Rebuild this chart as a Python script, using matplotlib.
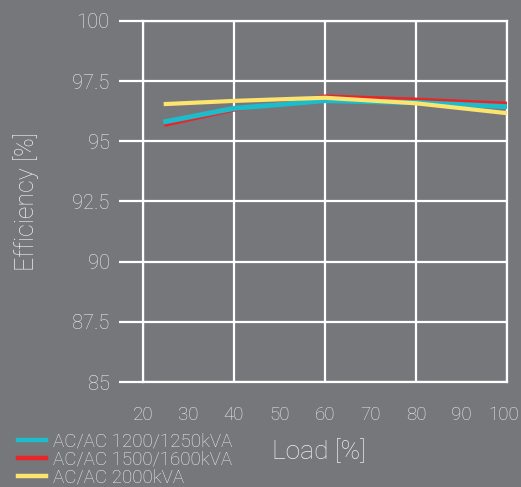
import matplotlib.pyplot as plt
import matplotlib.transforms as mtransforms

load = [25, 40, 60, 80, 100]
eff_1200 = [95.82, 96.37, 96.69, 96.61, 96.44]
eff_1500 = [95.68, 96.30, 96.88, 96.75, 96.58]
eff_2000 = [96.55, 96.68, 96.81, 96.58, 96.17]
labels = ['AC/AC 1200/1250kVA', 'AC/AC 1500/1600kVA', 'AC/AC 2000kVA']

plt.rcParams['font.family'] = ['Roboto', 'DejaVu Sans']
plt.rcParams['font.weight'] = 'light'

bg = '#76777b'
fg = '#ececec'

fig = plt.figure(figsize=(5.21, 4.87), dpi=100, facecolor=bg)
ax = fig.add_axes([0.2745, 0.2156, 0.6985, 0.7413])
ax.set_facecolor(bg)

l2, = ax.plot(load, eff_1500, color='#e8262a', lw=2.4, zorder=3)
l1, = ax.plot(load, eff_1200, color='#1cbccb', lw=3.6, zorder=4)
l3, = ax.plot(load, eff_2000, color='#fde46e', lw=3.0, zorder=5)

ax.set_xlim(20, 100)
ax.set_ylim(85, 100)
ax.set_xticks(range(20, 101, 10))
ax.set_yticks([85, 87.5, 90, 92.5, 95, 97.5, 100])
ax.set_yticklabels(['85', '87.5', '90', '92.5', '95', '97.5', '100'])

ax.grid(False)
for x in range(20, 101, 20):
    ax.axvline(x, color='white', lw=1.6, zorder=1)
for y in [85, 87.5, 90, 92.5, 95, 97.5, 100]:
    ax.axhline(y, color='white', lw=1.6, zorder=1)

for s in ax.spines.values():
    s.set_color('white')
    s.set_linewidth(1.6)

ax.tick_params(axis='y', direction='out', length=17, width=1.6, color='white',
               labelcolor=fg, labelsize=14.5, pad=7)
ax.tick_params(axis='x', which='both', length=0, labelcolor=fg, labelsize=13.5, pad=17)

# keep the last x label inside the figure edge
last = ax.get_xticklabels()[-1]
last.set_transform(last.get_transform() + mtransforms.ScaledTranslation(-3 / 100, 0, fig.dpi_scale_trans))

ax.set_ylabel('Efficiency [%]', color=fg, fontsize=18, fontweight='light', labelpad=24)
fig.text(0.613, 0.072, 'Load [%]', color=fg, fontsize=19, fontweight='light',
         ha='center', va='center')

leg = fig.legend([l1, l2, l3], labels, loc='lower left', bbox_to_anchor=(0.012, -0.022),
                 frameon=False, fontsize=13.5, handlelength=1.5, handletextpad=0.4,
                 labelspacing=0.0, labelcolor=fg, borderaxespad=0.2)
for h in leg.get_lines():
    h.set_linewidth(3.2)

fig.savefig('out.png', dpi=100, facecolor=bg)
